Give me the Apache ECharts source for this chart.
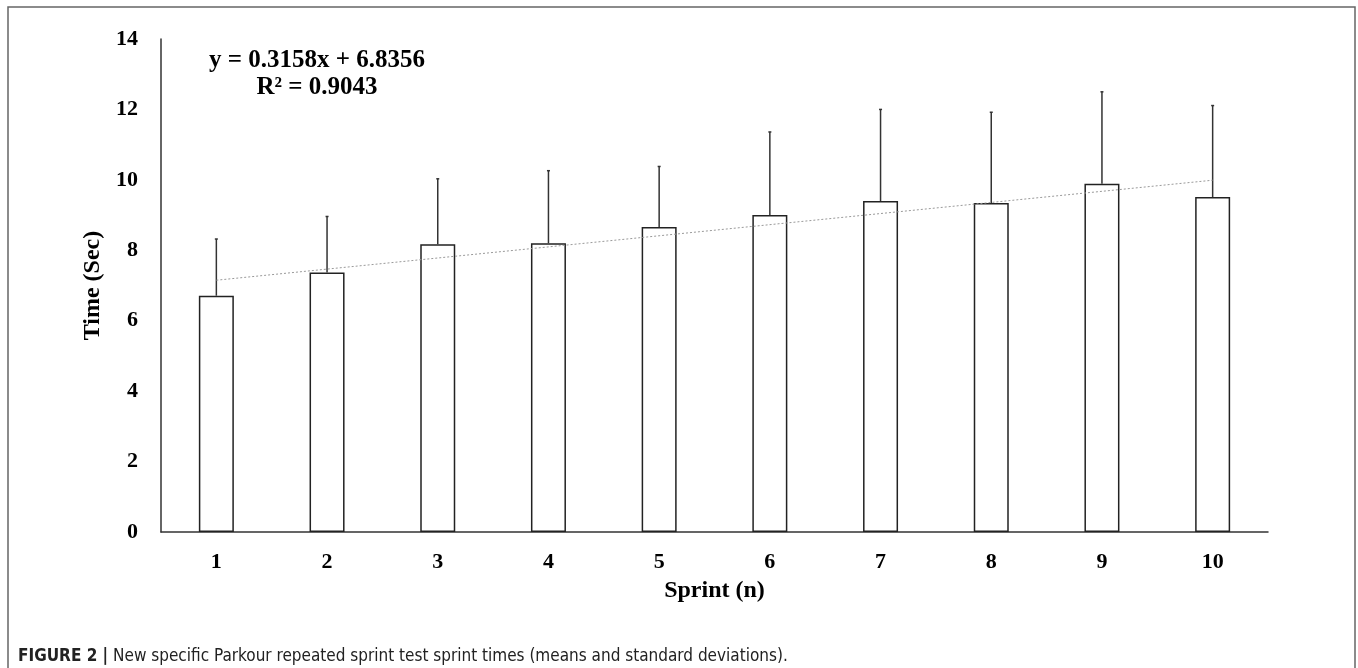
<!DOCTYPE html>
<html>
<head>
<meta charset="utf-8">
<script src="https://cdn.jsdelivr.net/npm/echarts@6/dist/echarts.min.js"></script>
<style>
	html, body { margin: 0; padding: 0; background: #fff; }
	#chart { width: 1358px; height: 668px; }
</style>
</head>
<body>
<div id="chart"></div>
<script>
// sprint number
var sprints = ['1', '2', '3', '4', '5', '6', '7', '8', '9', '10'];
// mean time (sec)
var means = [6.71, 7.37, 8.17, 8.2, 8.66, 9.0, 9.4, 9.34, 9.89, 9.51];
// standard deviation (upper whisker only)
var sds = [1.61, 1.59, 1.86, 2.06, 1.72, 2.36, 2.6, 2.58, 2.61, 2.6];
// trend line ends, at sprint 1 and sprint 10
var trendEnds = [7.15, 9.99];
var yTicks = { min: 0, max: 14, step: 2 };

var serif = '"Liberation Serif", "Times New Roman", serif';
var capFont = '"Liberation Sans Narrow", "DejaVu Sans Condensed", "Liberation Sans", sans-serif';
var chart = echarts.init(document.getElementById('chart'));

var errData = sprints.map(function (s, i) {
	return [i, means[i], sds[i]];
});

// whisker above each bar
function renderErr(params, api) {
	var i = api.value(0);
	var base = api.coord([i, api.value(1)]);
	var top = api.coord([i, api.value(1) + api.value(2)]);
	var st = { stroke: '#333', lineWidth: 1.5 };
	return {
		type: 'group',
		children: [
			{ type: 'line', shape: { x1: base[0], y1: base[1], x2: top[0], y2: top[1] }, style: st },
			{ type: 'line', shape: { x1: top[0] - 1.5, y1: top[1], x2: top[0] + 1.5, y2: top[1] }, style: st }
		]
	};
}

var option = {
	animation: false,
	grid: { left: 161, right: 90, top: 39, bottom: 136 },
	graphic: [
		{
			type: 'rect',
			shape: { x: 8, y: 7, width: 1347, height: 700 },
			style: { fill: 'none', stroke: '#666', lineWidth: 1.5 },
			silent: true
		},
		{
			type: 'text',
			x: 317,
			y: 47,
			style: {
				text: 'y = 0.3158x + 6.8356\nR² = 0.9043',
				align: 'center',
				font: 'bold 25px ' + serif,
				lineHeight: 27,
				fill: '#000'
			}
		},
		{
			type: 'text',
			x: 18,
			y: 648,
			style: {
				text: '{b|FIGURE 2 |} New specific Parkour repeated sprint test sprint times (means and standard deviations).',
				font: '17px ' + capFont,
				fill: '#222',
				rich: {
					b: { fontWeight: 'bold', fontSize: 17, fontFamily: capFont, fill: '#222' }
				}
			}
		}
	],
	xAxis: {
		type: 'category',
		data: sprints,
		name: 'Sprint (n)',
		nameLocation: 'middle',
		nameGap: 47,
		nameTextStyle: { fontFamily: serif, fontWeight: 'bold', fontSize: 24, color: '#000' },
		axisLine: { lineStyle: { color: '#333', width: 1.5 } },
		axisTick: { show: false },
		axisLabel: { margin: 19, fontFamily: serif, fontWeight: 'bold', fontSize: 22, color: '#000' }
	},
	yAxis: {
		type: 'value',
		min: yTicks.min,
		max: yTicks.max,
		interval: yTicks.step,
		name: 'Time (Sec)',
		nameLocation: 'middle',
		nameGap: 45,
		nameTextStyle: { fontFamily: serif, fontWeight: 'bold', fontSize: 24, color: '#000' },
		axisLine: { show: true, lineStyle: { color: '#333', width: 1.5 } },
		axisTick: { show: false },
		splitLine: { show: false },
		axisLabel: { margin: 23, fontFamily: serif, fontWeight: 'bold', fontSize: 22, color: '#000' }
	},
	series: [
		{
			type: 'bar',
			data: means,
			barWidth: 35,
			itemStyle: { color: '#fff', borderColor: '#222', borderWidth: 1.5 },
			markLine: {
				silent: true,
				symbol: 'none',
				label: { show: false },
				lineStyle: { color: '#999', width: 1, type: [2, 2] },
				data: [[{ coord: [0, trendEnds[0]] }, { coord: [9, trendEnds[1]] }]]
			},
			z: 2
		},
		{
			type: 'custom',
			data: errData,
			renderItem: renderErr,
			z: 3
		}
	]
};
chart.setOption(option);
</script>
</body>
</html>
